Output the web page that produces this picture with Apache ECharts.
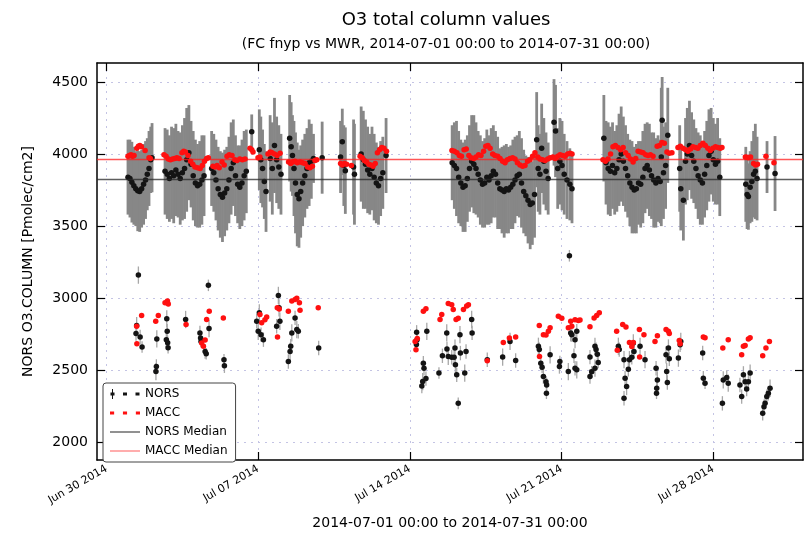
<!DOCTYPE html>
<html>
<head>
<meta charset="utf-8">
<script src="https://cdn.jsdelivr.net/npm/echarts@6/dist/echarts.min.js"></script>
<style>
  html, body { margin: 0; padding: 0; background: #fff; }
  #chart { width: 804px; height: 535px; }
</style>
</head>
<body>
<div id="chart"></div>
<script>
// Time values are days since 2014-06-30 00:00.
const xMin = -0.44;
const xMax = 32.14;
const yMin = 1877;
const yMax = 4632;

const tickDays = [0, 7, 14, 21, 28];
const tickLabels = ['Jun 30 2014', 'Jul 07 2014', 'Jul 14 2014', 'Jul 21 2014', 'Jul 28 2014'];
const yTicks = [2000, 2500, 3000, 3500, 4000, 4500];

const norsMedian = 3822;
const maccMedian = 3965;

// NORS retrievals with large uncertainty: [day, value, error]
const norsUpper = [
  [0.99,3840,260],[1.08,3830,270],[1.17,3805,280],[1.26,3780,270],[1.35,3760,260],[1.44,3745,280],
  [1.53,3740,280],[1.62,3760,270],[1.71,3790,280],[1.80,3820,270],[1.88,3860,250],[1.96,3900,260],
  [2.04,3960,230],[2.10,3975,240],
  [2.70,3880,300],[2.80,3860,310],[2.90,3830,300],[3.00,3870,320],[3.10,3850,330],[3.20,3890,320],
  [3.30,3860,300],[3.40,3830,320],[3.50,3870,330],[3.60,3900,350],[3.70,3960,360],[3.80,4010,330],
  [3.90,3930,300],[4.00,3850,310],[4.10,3800,300],[4.20,3780,290],[4.30,3790,300],[4.40,3820,310],
  [4.50,3850,280],
  [4.85,3900,260],[4.95,3870,270],[5.05,3820,280],[5.15,3760,290],[5.25,3720,300],[5.35,3700,310],
  [5.45,3730,300],[5.55,3760,290],[5.65,3820,300],[5.75,3900,320],[5.85,3940,300],[5.95,3850,280],
  [6.05,3790,270],[6.15,3770,290],[6.25,3800,300],[6.35,3850,310],[6.45,3880,290],[6.70,4155,120],
  [7.05,4030,280],[7.12,3960,300],[7.20,3900,270],[7.28,3810,260],[7.36,3740,280],[7.55,3970,300],
  [7.65,3900,320],[7.75,4060,330],[7.85,3960,300],[7.95,3910,290],[8.05,3860,280],
  [8.45,4110,300],[8.52,4050,310],[8.58,3990,280],[8.65,3900,330],[8.72,3800,350],[8.80,3720,360],
  [8.88,3690,340],[8.96,3740,320],[9.05,3800,300],[9.15,3850,290],[9.25,3900,280],[9.35,3940,300],
  [9.45,3950,260],[9.55,3970,170],[9.95,3975,250],
  [10.80,3980,250],[10.88,4085,230],[10.95,3920,280],[11.02,3885,300],[11.40,3910,330],[11.44,3860,350],
  [11.75,4000,330],[11.85,3960,340],[11.95,3930,310],[12.05,3890,300],[12.15,3860,280],[12.25,3900,290],
  [12.35,3840,300],[12.45,3800,280],[12.55,3780,270],[12.65,3830,260],[12.75,3870,250],[12.90,3990,260],
  [15.95,3940,260],[16.05,3920,300],[16.15,3900,330],[16.25,3840,320],[16.35,3800,300],[16.45,3770,310],
  [16.55,3780,320],[16.65,3830,300],[16.75,3900,300],[16.85,3950,320],[16.95,3930,340],[17.05,3900,320],
  [17.15,3860,300],[17.25,3820,310],[17.35,3790,300],[17.45,3800,310],[17.55,3840,330],[17.65,3820,310],
  [17.75,3850,330],[17.85,3880,320],[17.95,3860,300],[18.05,3800,320],[18.15,3760,280],[18.25,3750,300],
  [18.35,3740,320],[18.45,3760,310],[18.55,3750,300],[18.65,3770,290],[18.75,3790,310],[18.85,3820,300],
  [18.95,3850,280],[19.05,3860,300],[19.15,3800,310],[19.25,3740,290],[19.35,3710,280],[19.45,3680,300],
  [19.55,3650,310],[19.65,3660,290],[19.75,3720,300],[19.85,4100,330],[19.92,3900,300],[20.00,3860,280],
  [20.08,4040,310],[20.18,3950,300],[20.28,3880,270],[20.38,3830,250],[20.65,4220,300],[20.72,4160,320],
  [20.82,3900,280],[20.92,3950,300],[21.02,3920,310],[21.12,3860,280],[21.25,3820,270],[21.38,3790,250],
  [21.48,3760,240],
  [22.95,4110,300],[23.05,3940,290],[23.15,3900,320],[23.25,3880,310],[23.35,3920,300],[23.45,3870,290],
  [23.55,3900,300],[23.65,3960,320],[23.75,4000,330],[23.85,3950,310],[23.95,3900,300],[24.05,3850,290],
  [24.15,3800,300],[24.25,3770,320],[24.35,3750,300],[24.45,3760,310],[24.55,3800,290],[24.65,3790,300],
  [24.75,3840,320],[24.85,3900,310],[24.95,3920,300],[25.05,3890,320],[25.15,3850,300],[25.25,3820,330],
  [25.35,3800,310],[25.45,3830,300],[25.55,3810,290],[25.60,3980,480],[25.64,4235,300],[25.70,3870,320],
  [25.80,3920,300],[25.90,4130,330],[26.45,3900,300],[26.50,3760,290],[26.62,3680,280],[26.72,3950,300],
  [26.80,4000,320],[26.90,4060,310],[27.00,3990,300],[27.10,3950,290],[27.20,3900,280],[27.30,3850,300],
  [27.40,3820,310],[27.50,3800,290],[27.60,3860,300],[27.70,3920,310],[27.80,3990,320],[27.90,4020,300],
  [28.00,3960,290],[28.10,3930,280],[28.20,3950,300],[28.30,3840,270],
  [29.50,3790,260],[29.56,3720,240],[29.62,3705,230],[29.70,3770,250],[29.78,3810,280],[29.86,3860,300],
  [29.94,3880,330],[30.02,3830,290],[30.48,3910,180],[30.85,3865,260]
];

// NORS retrievals with small uncertainty: [day, value, error]
const norsLower = [
  [1.47,3160,60],[1.39,2810,60],[1.36,2754,50],[1.55,2731,50],[1.64,2661,40],
  [2.32,2717,60],[2.30,2526,50],[2.28,2491,60],
  [2.78,2857,60],[2.80,2770,50],[2.76,2712,50],[2.82,2691,50],[2.84,2656,40],
  [3.65,2852,60],[4.31,2759,50],[4.34,2724,50],[4.36,2700,40],[4.55,2630,50],[4.60,2614,40],
  [4.70,3089,40],[4.73,2789,60],[5.44,2531,50],[5.42,2573,40],
  [7.05,2898,60],[6.93,2840,50],[7.00,2770,60],[7.13,2747,50],[7.24,2712,50],
  [7.93,3019,60],[7.96,2933,60],[7.85,2805,50],[8.00,2840,60],
  [8.39,2561,50],[8.47,2630,60],[8.50,2666,50],[8.55,2759,60],[8.70,2863,50],[8.78,2782,60],[8.85,2770,50],
  [9.79,2654,50],
  [14.31,2763,50],[14.33,2712,50],[14.30,2678,40],[14.62,2549,50],[14.65,2514,50],[14.59,2421,60],
  [14.55,2391,50],[14.74,2442,50],[14.78,2770,60],[15.34,2480,40],[15.50,2600,50],[15.70,2759,60],
  [15.71,2647,50],[15.77,2596,60],[15.93,2590,50],[16.04,2590,50],[16.08,2654,60],[16.10,2538,60],
  [16.23,2270,40],[16.16,2468,50],[16.31,2747,60],[16.33,2619,50],[16.53,2480,60],[16.59,2630,50],
  [16.85,2852,60],[16.87,2759,50],[17.57,2573,50],[18.28,2591,60],[18.62,2700,60],[18.88,2568,50],
  [19.93,2666,60],[19.97,2643,50],[20.04,2549,50],[20.10,2520,40],[20.16,2456,50],[20.28,2420,40],
  [20.31,2398,50],[20.30,2340,40],[20.47,2607,60],[20.90,2526,50],[20.92,2560,40],[21.31,2491,60],
  [21.36,3294,40],[21.42,2759,60],[21.57,2600,50],[21.70,2503,60],
  [21.47,2747,50],[21.62,2712,60],[21.70,2770,50],[21.62,2514,50],
  [22.31,2456,50],[22.39,2490,40],[22.54,2514,60],[22.31,2591,50],[22.54,2666,60],[22.59,2643,50],
  [22.65,2610,50],[22.69,2554,40],[23.62,2666,60],[23.66,2643,50],[23.88,2573,60],[23.93,2445,50],
  [24.00,2387,60],[23.88,2305,50],[24.08,2507,50],[24.13,2573,60],[24.24,2590,50],[24.31,2689,60],
  [24.34,2630,50],[24.62,2666,60],[24.85,2573,60],[25.36,2514,50],[25.42,2433,60],[25.39,2375,50],
  [25.38,2340,40],[25.82,2607,60],[25.85,2491,60],[25.88,2415,50],[25.93,2654,60],[25.97,2580,50],
  [26.39,2584,60],[26.47,2677,50],[26.50,2700,60],[27.51,2619,50],[27.54,2445,50],[27.62,2410,40],
  [28.42,2270,50],[28.46,2433,60],[28.62,2450,50],[28.69,2410,60],[29.23,2398,50],[29.31,2317,50],
  [29.39,2468,60],[29.47,2420,50],[29.54,2370,50],[29.62,2420,50],[29.70,2480,60],
  [30.28,2201,50],[30.34,2247,50],[30.39,2270,40],[30.47,2317,50],[30.54,2340,50],[30.62,2375,60]
];

// MACC model values: [day, value]
const maccUpper = [
  [0.99,3985],[1.06,3990],[1.13,3995],[1.20,3985],[1.27,3990],[1.40,4040],[1.47,4055],[1.54,4060],
  [1.61,4050],[1.78,4025],[1.96,3975],[2.02,3970],
  [2.65,3995],[2.75,3985],[2.85,3965],[2.95,3960],[3.05,3965],[3.15,3970],[3.25,3975],[3.35,3970],
  [3.48,4010],[3.56,4020],[3.64,4015],[3.76,3990],[3.88,3950],[3.98,3930],[4.08,3910],[4.20,3905],
  [4.32,3900],[4.42,3920],[4.52,3950],[4.62,3970],[4.70,3975],
  [4.91,3915],[5.00,3910],[5.10,3920],[5.20,3905],[5.33,3945],[5.43,3925],[5.56,3985],[5.66,3995],
  [5.79,3990],[5.92,3960],[6.02,3955],[6.15,3965],[6.27,3960],[6.39,3965],[6.62,4040],[6.70,4030],
  [6.76,4015],
  [6.99,3975],[7.08,3980],[7.45,4000],[7.55,4015],[7.64,4010],[7.75,4000],[7.87,3990],[8.01,4005],
  [8.40,3945],[8.50,3935],[8.60,3945],[8.70,3950],[8.80,3940],[8.93,3945],[9.05,3940],[9.16,3935],
  [9.28,3910],[9.39,3905],[9.50,3915],[9.62,3955],[9.70,3960],
  [10.80,3935],[10.88,3925],[10.98,3935],[11.08,3930],[11.30,3920],
  [11.70,3985],[11.80,3975],[11.90,3955],[12.00,3945],[12.10,3930],[12.20,3925],[12.30,3915],
  [12.40,3935],[12.50,4010],[12.60,4030],[12.70,4045],[12.80,4040],[12.92,4020],
  [15.94,4025],[16.05,4020],[16.17,4010],[16.28,3990],[16.38,3985],[16.50,4030],[16.60,4035],
  [16.72,3990],[16.82,3975],[16.95,3970],[17.05,3980],[17.17,3995],[17.28,3990],[17.40,4020],
  [17.50,4055],[17.60,4060],[17.70,4040],[17.82,4000],[17.92,3990],[18.05,3985],[18.16,3970],
  [18.28,3950],[18.39,3940],[18.50,3960],[18.62,3970],[18.74,3975],[18.85,3965],[18.96,3940],
  [19.08,3925],[19.20,3915],[19.31,3920],[19.43,3950],[19.54,3960],[19.66,3985],[19.77,4010],
  [19.90,3980],[20.00,3965],[20.12,3960],[20.24,3955],[20.36,3965],[20.47,3975],[20.60,3980],
  [20.70,3970],[20.82,3985],[20.93,3995],[21.05,3990],[21.16,3985],[21.28,4000],[21.39,4005],
  [21.48,4000],
  [22.91,3960],[23.02,3950],[23.14,3965],[23.26,4000],[23.37,4050],[23.48,4060],[23.60,4045],
  [23.72,4030],[23.84,4045],[23.95,4010],[24.07,3990],[24.18,3965],[24.30,3945],[24.42,3970],
  [24.53,4020],[24.65,4015],[24.76,4010],[24.88,3995],[24.99,3990],[25.10,3995],[25.22,3985],
  [25.41,4055],[25.52,4060],[25.63,4080],[25.74,4075],[25.86,4015],[25.97,4005],[26.09,4010],
  [26.37,4045],[26.48,4055],[26.60,4040],[26.72,4030],[26.83,4020],[26.95,4035],[27.06,4050],
  [27.18,4045],[27.29,4040],[27.40,4060],[27.52,4075],[27.63,4060],[27.75,4040],[27.86,4025],
  [27.98,4040],[28.10,4050],[28.21,4045],[28.32,4040],[28.40,4045],
  [29.48,3980],[29.55,3978],[29.62,3975],[29.72,3980],[29.86,3935],[29.95,3925],[30.04,3930],
  [30.43,3985],[30.80,3940]
];

const maccLower = [
  [1.39,2805],[1.62,2880],[1.40,2684],[2.27,2840],[2.39,2880],[2.70,2968],[2.81,2980],[2.85,2960],
  [3.67,2817],[4.39,2689],[4.47,2666],[4.55,2710],[4.62,2852],[4.74,2910],[5.39,2863],
  [7.08,2887],[7.16,2829],[7.31,2850],[7.39,2870],[7.88,2933],[7.97,2925],[7.89,2731],
  [8.39,2910],[8.55,2980],[8.70,2991],[8.78,3000],[8.90,2968],[8.93,2917],[9.77,2933],
  [14.24,2700],[14.28,2642],[14.34,2720],[14.62,2910],[14.74,2926],[15.39,2852],[15.47,2887],
  [15.77,2963],[15.93,2955],[16.00,2922],[16.13,2852],[16.23,2860],[16.47,2922],[16.62,2945],
  [16.70,2955],[17.57,2566],[18.31,2693],[18.59,2724],[18.88,2731],[19.97,2810],[19.98,2596],
  [20.16,2747],[20.28,2745],[20.39,2770],[20.47,2794],[20.85,2875],[21.01,2860],
  [21.31,2794],[21.42,2840],[21.62,2850],[21.77,2845],[21.47,2805],[21.85,2848],
  [22.31,2801],[22.50,2863],[22.62,2880],[22.74,2898],[23.54,2770],[23.57,2638],[23.82,2817],
  [23.97,2800],[24.13,2693],[24.24,2665],[24.31,2693],[24.59,2782],[24.60,2591],[24.80,2747],
  [25.31,2700],[25.42,2740],[25.82,2782],[25.93,2770],[25.97,2755],[26.43,2707],[26.47,2684],
  [27.54,2731],[27.62,2725],[28.44,2654],[28.69,2712],[29.31,2607],[29.39,2666],[29.47,2672],
  [29.62,2717],[29.70,2725],[30.28,2600],[30.43,2654],[30.59,2700]
];

const norsAll = norsUpper.concat(norsLower);
const maccAll = maccUpper.concat(maccLower);

const FONT = 'DejaVu Sans';
const gridLine = { show: true, lineStyle: { color: '#c4c4e4', type: [2, 5], width: 1 } };
const frameLine = { show: true, onZero: false, lineStyle: { color: '#000', width: 1.5 } };
const innerTick = (vals) => ({ show: true, inside: true, length: 8, customValues: vals, lineStyle: { color: '#000', width: 1.2 } });

// Vertical error bar drawn from value - error to value + error.
function errorBar(color, width) {
  return (params, api) => {
    const x = api.value(0), v = api.value(1), e = api.value(2);
    const hi = api.coord([x, v + e]);
    const lo = api.coord([x, v - e]);
    return {
      type: 'line',
      shape: { x1: hi[0], y1: hi[1], x2: lo[0], y2: lo[1] },
      style: { stroke: color, lineWidth: width }
    };
  };
}

const chart = echarts.init(document.getElementById('chart'), null, { renderer: 'canvas' });

chart.setOption({
  animation: false,
  backgroundColor: '#fff',
  textStyle: { fontFamily: FONT },
  title: {
    text: 'O3 total column values',
    subtext: '(FC fnyp vs MWR, 2014-07-01 00:00 to 2014-07-31 00:00)',
    left: 441,
    top: 6,
    textAlign: 'center',
    itemGap: 8,
    textStyle: { fontFamily: FONT, fontSize: 18, fontWeight: 'normal', color: '#000' },
    subtextStyle: { fontFamily: FONT, fontSize: 14, color: '#000' }
  },
  grid: { left: 97, right: 1, top: 63, bottom: 73, containLabel: false },
  legend: {
    orient: 'vertical',
    left: 103,
    top: 383,
    padding: [5, 8, 5, 7],
    itemWidth: 30,
    itemHeight: 10,
    itemGap: 7,
    backgroundColor: '#fff',
    borderColor: '#444',
    borderWidth: 1,
    borderRadius: 3,
    textStyle: { fontFamily: FONT, fontSize: 12, color: '#000' },
    data: [
      { name: 'NORS', icon: 'path://M2,0h1v10h-1z M0.5,3.5h4v3h-4z M13,3.5h4v3h-4z M25.5,3.5h4v3h-4z' },
      { name: 'MACC', icon: 'path://M0.5,3.5h4v3h-4z M13,3.5h4v3h-4z M25.5,3.5h4v3h-4z' },
      { name: 'NORS Median', icon: 'path://M0,4.4h30v1.3h-30z' },
      { name: 'MACC Median', icon: 'path://M0,4.4h30v1.3h-30z' }
    ]
  },
  xAxis: [
    {
      type: 'value', position: 'bottom', min: xMin, max: xMax,
      axisLine: frameLine,
      axisTick: innerTick(tickDays),
      axisLabel: {
        customValues: tickDays,
        formatter: (v) => tickLabels[tickDays.indexOf(v)] || '',
        rotate: 30, fontSize: 11, margin: 8, color: '#000', fontFamily: FONT
      },
      splitLine: gridLine,
      name: '2014-07-01 00:00 to 2014-07-31 00:00',
      nameLocation: 'middle',
      nameGap: 56,
      nameTextStyle: { fontFamily: FONT, fontSize: 14, color: '#000' }
    },
    {
      type: 'value', position: 'top', min: xMin, max: xMax,
      axisLine: frameLine,
      axisTick: innerTick(tickDays),
      axisLabel: { show: false },
      splitLine: { show: false }
    }
  ],
  yAxis: [
    {
      type: 'value', position: 'left', min: yMin, max: yMax,
      axisLine: frameLine,
      axisTick: innerTick(yTicks),
      axisLabel: {
        customValues: yTicks,
        formatter: (v) => String(v),
        fontSize: 14, margin: 9, color: '#000', fontFamily: FONT
      },
      splitLine: gridLine,
      name: 'NORS O3.COLUMN [Pmolec/cm2]',
      nameLocation: 'middle',
      nameGap: 62,
      nameTextStyle: { fontFamily: FONT, fontSize: 14, color: '#000' }
    },
    {
      type: 'value', position: 'right', min: yMin, max: yMax,
      axisLine: frameLine,
      axisTick: innerTick(yTicks),
      axisLabel: { show: false },
      splitLine: { show: false }
    }
  ],
  series: [
    {
      name: 'NORS',
      type: 'scatter',
      data: norsAll.map(p => [p[0], p[1]]),
      symbol: 'circle',
      symbolSize: 5.5,
      itemStyle: { color: '#141414', opacity: 1 },
      z: 4
    },
    {
      name: 'NORS',
      type: 'custom',
      data: norsUpper,
      encode: { x: 0, y: 1 },
      clip: true,
      z: 2,
      renderItem: errorBar('#878787', 2.8)
    },
    {
      name: 'NORS',
      type: 'custom',
      data: norsLower,
      encode: { x: 0, y: 1 },
      clip: true,
      z: 2,
      renderItem: errorBar('#a8a8a8', 1.3)
    },
    {
      name: 'MACC',
      type: 'scatter',
      data: maccAll,
      symbol: 'circle',
      symbolSize: 5.5,
      itemStyle: { color: '#ff1010', opacity: 1 },
      z: 5
    },
    {
      name: 'NORS Median',
      type: 'line',
      data: [],
      itemStyle: { color: '#555' },
      lineStyle: { color: '#555' },
      z: 3,
      markLine: {
        silent: true, symbol: 'none', label: { show: false },
        lineStyle: { color: 'rgba(40,40,40,0.75)', width: 1.3, type: 'solid' },
        data: [{ yAxis: norsMedian }]
      }
    },
    {
      name: 'MACC Median',
      type: 'line',
      data: [],
      itemStyle: { color: '#ff8080' },
      lineStyle: { color: '#ff8080' },
      z: 3,
      markLine: {
        silent: true, symbol: 'none', label: { show: false },
        lineStyle: { color: 'rgba(255,30,30,0.75)', width: 1.3, type: 'solid' },
        data: [{ yAxis: maccMedian }]
      }
    }
  ]
});
</script>
</body>
</html>
